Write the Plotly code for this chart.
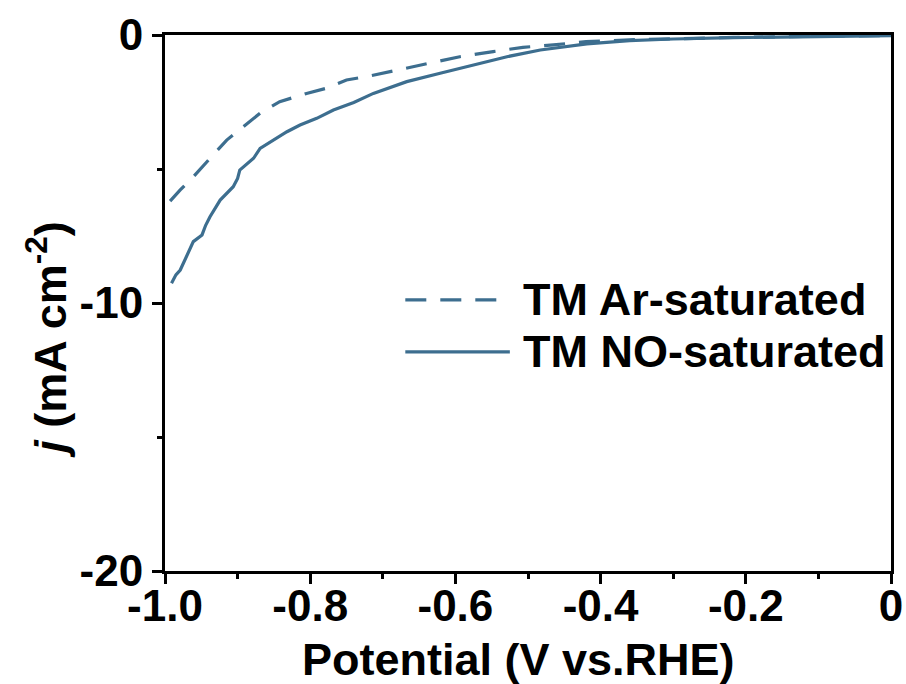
import plotly.graph_objects as go

# Data (potential in V vs. RHE, current density in mA cm^-2)
ar_potential = [-0.993, -0.979, -0.961, -0.938, -0.915, -0.892, -0.869, -0.842, -0.805,
                -0.778, -0.750, -0.718, -0.676, -0.630, -0.594, -0.548, -0.507, -0.465,
                -0.420, -0.360, -0.300, -0.217, -0.120, 0.0]
ar_current = [-6.20, -5.78, -5.29, -4.60, -3.92, -3.42, -2.92, -2.49, -2.18,
              -1.99, -1.68, -1.53, -1.28, -1.00, -0.81, -0.62, -0.46, -0.37,
              -0.25, -0.18, -0.13, -0.09, -0.05, -0.02]

no_potential = [-0.991, -0.985, -0.979, -0.970, -0.961, -0.949, -0.944, -0.938, -0.924,
                -0.906, -0.900, -0.897, -0.878, -0.869, -0.851, -0.832, -0.814, -0.791,
                -0.768, -0.740, -0.713, -0.667, -0.621, -0.575, -0.529, -0.483, -0.419,
                -0.360, -0.300, -0.217, -0.120, -0.050, 0.0]
no_current = [-9.26, -8.95, -8.77, -8.27, -7.71, -7.46, -7.10, -6.78, -6.16,
              -5.66, -5.35, -5.04, -4.60, -4.23, -3.92, -3.61, -3.36, -3.11,
              -2.80, -2.52, -2.18, -1.74, -1.43, -1.12, -0.81, -0.56, -0.33,
              -0.21, -0.15, -0.10, -0.06, -0.03, -0.02]

x_tick_vals = [-1.0, -0.8, -0.6, -0.4, -0.2, 0.0]
x_tick_text = ["-1.0", "-0.8", "-0.6", "-0.4", "-0.2", "0"]
y_tick_vals = [0, -10, -20]
y_tick_text = ["0", "-10", "-20"]

legend_names = ["TM Ar-saturated", "TM NO-saturated"]
x_title = "Potential (V vs.RHE)"
y_title = "<i>j</i> (mA cm<sup>-2</sup>)"

color = "#3d6e8f"
font_family = "Liberation Sans, Arial, sans-serif"

fig = go.Figure()
fig.add_trace(go.Scatter(x=ar_potential, y=ar_current, mode="lines", name=legend_names[0],
                         line=dict(color=color, width=3.2, dash="21px,14px"), showlegend=False))
fig.add_trace(go.Scatter(x=no_potential, y=no_current, mode="lines", name=legend_names[1],
                         line=dict(color=color, width=3.2), showlegend=False))

# Custom legend (long sample lines like the reference)
legend_rows = [(0.506, "21px,14px"), (0.409, "solid")]
for (ypos, dash), name in zip(legend_rows, legend_names):
    fig.add_shape(type="line", xref="paper", yref="paper", x0=0.331, x1=0.475,
                  y0=ypos, y1=ypos, line=dict(color=color, width=3.2, dash=dash))
    fig.add_annotation(xref="paper", yref="paper", x=0.491, y=ypos, xanchor="left",
                       yanchor="middle", text=name, showarrow=False,
                       font=dict(family=font_family, size=45, color="black", weight="bold"))

title_font = dict(family=font_family, size=45, color="black", weight="bold")
# Axis titles as annotations, positioned as in the reference
fig.add_annotation(xref="paper", yref="paper", x=-0.163, y=0.431, xanchor="center",
                   yanchor="middle", text=y_title, textangle=-90, showarrow=False,
                   font=title_font)
fig.add_annotation(xref="paper", yref="paper", x=0.4876, y=-0.166, xanchor="center",
                   yanchor="middle", text=x_title, showarrow=False, font=title_font)

axis_common = dict(showline=True, linecolor="black", linewidth=3, mirror=True,
                   ticks="outside", ticklen=10, tickwidth=3, tickcolor="black",
                   showgrid=False, zeroline=False, automargin=False,
                   tickfont=dict(family=font_family, size=44, color="black", weight="bold"))

fig.update_xaxes(range=[-1.0, 0.0], tickvals=x_tick_vals, ticktext=x_tick_text,
                 ticklabelstandoff=-16,
                 minor=dict(ticks="outside", ticklen=5, tickwidth=3, tickcolor="black", dtick=0.1,
                            tick0=0),
                 **axis_common)
fig.update_yaxes(range=[-20, 0], tickvals=y_tick_vals, ticktext=y_tick_text,
                 minor=dict(ticks="outside", ticklen=5, tickwidth=3, tickcolor="black", dtick=5,
                            tick0=0),
                 **axis_common)

fig.update_layout(width=906, height=684, margin=dict(l=165, r=15, t=35, b=113),
                  plot_bgcolor="white", paper_bgcolor="white")

fig.write_html("out.html")
